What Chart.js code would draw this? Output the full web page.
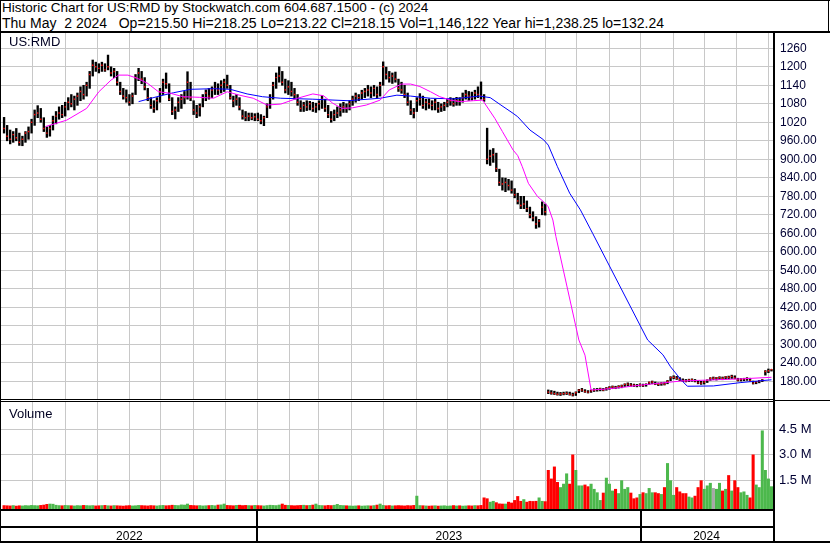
<!DOCTYPE html>
<html lang="en">
<head>
<meta charset="UTF-8">
<title>US:RMD Historic Chart</title>
<script src="https://cdn.jsdelivr.net/npm/chart.js"></script>
<style>
  body { margin: 0; background: #fff; }
  #page { position: relative; width: 830px; height: 543px; overflow: hidden; font-family: "Liberation Sans", Arial, sans-serif; color: #000; }
  .hdr { position: absolute; left: 2px; font-size: 14px; line-height: 14px; white-space: pre; }
  .lbl { position: absolute; left: 9px; font-size: 13px; line-height: 13px; color: #000022; }
  .k { position: absolute; background: #000; }
  canvas { position: absolute; }
</style>
</head>
<body>
<div id="page">
  <div class="hdr" style="top:1px;font-size:13.5px">Historic Chart for US:RMD by Stockwatch.com 604.687.1500 - (c) 2024</div>
  <div class="hdr" style="top:15.5px">Thu May  2 2024   Op=215.50 Hi=218.25 Lo=213.22 Cl=218.15 Vol=1,146,122 Year hi=1,238.25 lo=132.24</div>
  <canvas id="price" width="829" height="367" style="left:1px;top:33px"></canvas>
  <canvas id="volume" width="829" height="140" style="left:1px;top:402px"></canvas>
  <div class="lbl" style="top:35.3px">US:RMD</div>
  <div class="lbl" style="top:406.6px">Volume</div>

  <div class="k" style="left:0;top:0;width:830px;height:1px"></div>
  <div class="k" style="left:0;top:0;width:1px;height:543px"></div>
  <div class="k" style="left:828px;top:0;width:1px;height:32px"></div>
  <div class="k" style="left:0;top:31px;width:830px;height:2px"></div>
  <div class="k" style="left:773px;top:31px;width:2px;height:512px"></div>
  <div class="k" style="left:0;top:399px;width:773px;height:1px"></div>
  <div class="k" style="left:0;top:401px;width:773px;height:1px"></div>
  <div class="k" style="left:775px;top:400px;width:55px;height:1px"></div>
  <div class="k" style="left:0;top:509px;width:775px;height:2px"></div>
  <div class="k" style="left:0;top:526px;width:775px;height:2px"></div>
  <div class="k" style="left:0;top:541px;width:830px;height:2px"></div>
  <div class="k" style="left:256px;top:509px;width:2px;height:34px"></div>
  <div class="k" style="left:640px;top:509px;width:2px;height:34px"></div>
</div>

<script>
// one bar per two trading days, May 2022 .. May 2 2024
const hi = [
  1036,1010,995,990,1000,985,975,990,1005,1030,
  1060,1074,1065,1035,1005,1010,1040,1055,1070,1075,
  1085,1100,1110,1105,1115,1135,1140,1150,1185,1222,
  1215,1210,1215,1210,1238,1200,1195,1185,1150,1130,
  1125,1110,1115,1175,1195,1185,1165,1130,1100,1090,
  1100,1130,1160,1180,1145,1100,1070,1100,1110,1120,
  1184,1150,1090,1075,1080,1110,1125,1130,1135,1150,
  1145,1155,1160,1173,1140,1105,1110,1100,1060,1055,
  1050,1050,1048,1050,1045,1040,1080,1110,1150,1180,
  1200,1185,1160,1155,1150,1130,1110,1090,1085,1090,
  1088,1085,1082,1090,1107,1095,1075,1055,1060,1070,
  1080,1085,1080,1090,1105,1115,1110,1124,1130,1140,
  1135,1140,1135,1150,1216,1199,1185,1180,1183,1160,
  1150,1140,1115,1090,1065,1100,1113,1105,1095,1096,
  1090,1095,1085,1080,1085,1095,1100,1098,1101,1100,
  1115,1124,1120,1118,1124,1135,1151,1110,1001,930,
  935,920,868,840,839,835,830,805,790,780,
  780,765,745,730,714,705,762,755,
  152,150,148,145,144,145,146,145,142,146,
  154,157,153,150,152,156,157,158,157,160,
  163,165,164,166,168,172,175,173,171,170,
  172,171,172,178,181,178,175,176,177,183,
  195,198,196,192,188,186,187,188,186,182,
  180,181,185,192,194,193,195,194,196,197,
  200,198,190,189,190,192,190,181,180,183,
  186,215,220,218.25
];
const lo = [
  985,960,950,955,960,945,944,955,965,985,
  1010,1035,1020,990,971,975,995,1015,1030,1035,
  1040,1060,1070,1060,1075,1090,1095,1105,1130,1170,
  1185,1180,1185,1185,1190,1170,1165,1140,1110,1095,
  1085,1075,1080,1110,1155,1145,1125,1090,1065,1052,
  1060,1085,1110,1130,1090,1045,1031,1055,1065,1080,
  1095,1090,1045,1035,1040,1070,1090,1095,1100,1110,
  1110,1115,1120,1130,1095,1070,1075,1060,1030,1025,
  1025,1028,1025,1025,1015,1009,1035,1065,1095,1130,
  1150,1140,1115,1110,1105,1095,1075,1055,1055,1058,
  1060,1055,1052,1060,1065,1055,1035,1020,1025,1035,
  1040,1052,1052,1060,1075,1085,1090,1095,1100,1105,
  1100,1105,1100,1105,1140,1160,1150,1146,1150,1120,
  1114,1100,1075,1045,1034,1055,1075,1065,1060,1065,
  1060,1060,1052,1055,1058,1070,1075,1072,1075,1075,
  1085,1095,1091,1092,1095,1100,1095,1088,885,880,
  890,860,815,800,795,800,790,775,755,740,
  740,730,710,700,676,680,720,719,
  140,138,137,135,134,136,137,135,132.24,134,
  143,147,144,142,144,147,148,149,149,151,
  154,156,156,158,159,163,165,164,163,162,
  164,163,164,170,172,169,166,167,168,172,
  182,188,186,182,179,178,179,180,178,172,
  170,171,176,183,185,184,186,185,187,188,
  189,188,181,181,182,183,181,171,172,175,
  179,200,208,213.22
];
const cl = [
  1000,975,965,980,970,955,965,985,990,1020,
  1045,1050,1030,1000,985,1000,1025,1040,1050,1045,
  1070,1085,1080,1095,1105,1120,1110,1140,1175,1205,
  1200,1195,1205,1190,1200,1180,1185,1150,1120,1105,
  1100,1085,1105,1165,1180,1160,1135,1100,1075,1065,
  1090,1120,1150,1145,1095,1055,1060,1085,1095,1100,
  1150,1100,1060,1050,1070,1100,1115,1105,1125,1130,
  1125,1140,1150,1140,1100,1090,1095,1070,1040,1035,
  1040,1035,1038,1030,1025,1035,1070,1100,1140,1165,
  1170,1150,1125,1135,1120,1110,1085,1065,1075,1070,
  1080,1065,1070,1080,1095,1065,1045,1030,1045,1050,
  1060,1070,1065,1080,1095,1105,1100,1115,1120,1125,
  1115,1130,1110,1140,1200,1175,1165,1170,1160,1130,
  1125,1110,1085,1060,1050,1090,1095,1075,1085,1080,
  1075,1085,1065,1070,1075,1085,1090,1080,1090,1088,
  1100,1110,1105,1100,1115,1110,1105,1095,900,910,
  915,870,825,820,825,815,800,785,765,750,
  755,740,720,710,690,700,745,730,
  145,142,140,138,139,140,141,138,136,143,
  151,152,147,145,149,152,153,155,152,157,
  160,162,160,163,165,170,171,168,167,166,
  169,166,170,176,178,172,170,173,171,180,
  192,193,190,186,183,181,184,185,182,175,
  174,178,183,190,190,191,192,190,194,193,
  196,191,184,186,187,189,183,174,178,181,
  183,212,214,218.15
];
// volume in millions
const vol = [
  .05,.04,.03,.05,.02,.04,.03,.05,.04,.06,
  .05,.04,.06,.08,.12,.14,.13,.07,.05,.04,
  .06,.05,.04,.03,.05,.04,.06,.05,.04,.05,
  .03,.04,.05,.06,.04,.03,.05,.04,.03,.02,
  .04,.05,.03,.04,.06,.05,.04,.03,.05,.04,
  .03,.05,.06,.04,.05,.07,.06,.05,.09,.08,
  .14,.06,.05,.04,.05,.03,.04,.05,.06,.04,
  .08,.09,.14,.06,.05,.04,.06,.07,.05,.06,
  .05,.04,.06,.05,.04,.03,.05,.07,.06,.05,
  .08,.14,.07,.06,.05,.04,.05,.06,.07,.05,
  .06,.08,.14,.06,.05,.04,.06,.05,.07,.12,
  .06,.05,.04,.03,.02,.03,.04,.02,.03,.04,
  .03,.05,.08,.14,.06,.04,.05,.03,.04,.05,
  .04,.03,.05,.04,.06,.60,.05,.04,.03,.02,
  .03,.04,.02,.03,.04,.02,.03,.05,.03,.04,
  .02,.03,.04,.03,.05,.04,.06,.50,.45,.25,
  .30,.22,.15,.14,.14,.25,.20,.35,.58,.30,
  .40,.25,.30,.29,.30,.50,.30,.28,
  2.1,1.6,2.3,1.4,1.1,1.3,1.9,1.3,3.0,2.1,
  1.2,1.2,1.25,1.15,1.3,1.0,0.8,0.35,0.78,1.65,
  1.3,0.9,1.0,0.75,1.5,1.0,1.1,0.78,0.45,0.5,
  0.7,0.8,0.75,1.05,0.8,0.8,0.75,0.7,1.1,2.5,
  1.5,0.65,1.1,0.85,0.75,0.75,0.55,0.5,0.6,1.1,
  1.5,1.0,1.2,1.35,1.05,1.0,1.35,0.9,1.0,1.8,
  0.9,1.5,1.1,0.8,0.85,0.65,0.5,3.0,1.25,1.1,
  4.4,2.1,1.6,1.15
];

// moving averages (trading-day index, value)
const maFastDay = [28,42,55,63,71,76,82,88,95,102,110,118,129,138,147,155,164,173,182,193,203,210,216,222,229,238,247,253,261,267,273,280,286,293,299,308,314,322,327,334,337,340,344,350,354,357,360,362,377,381,385,395,405,418,444,483,503];
const maFast    = [1006,1027,1065,1119,1157,1173,1173,1163,1146,1119,1114,1103,1101,1098,1119,1108,1098,1076,1079,1098,1112,1106,1082,1065,1067,1076,1092,1125,1144,1144,1136,1119,1103,1092,1087,1090,1092,1033,990,930,912,876,822,779,762,746,703,649,314,265,152,155,160,168,181,188,193];
const maSlowDay = [89,101,112,123,138,149,160,170,182,203,226,247,258,267,280,295,312,319,326,334,337,345,354,357,363,371,378,386,422,432,437,444,448,465,483,503];
const maSlow    = [1087,1103,1116,1127,1129,1127,1112,1103,1098,1095,1090,1098,1108,1105,1098,1096,1105,1100,1076,1049,1038,995,963,946,876,790,736,660,314,266,227,184,164,165,176,185];

const priceTicks = [180,240,300,360,420,480,540,600,660,720,780,840,900,960,1020,1080,1140,1200,1260];
const volTicks = [1.5, 3.0, 4.5];
const monthTicks = [19.5,41,62,83,103.5,125,146,167,188,207,228.5,249,270.5,291,312.5,334.5,355,375.5,397,417,439,459.5,480,501];
const yearMid = [83, 292, 460.5];
const yearLabels = ['2022', '2023', '2024'];

const days = cl.map((c, k) => 2 * k + 1);
const FONT = '"Liberation Sans", Arial, sans-serif';
const GRID = '#c8c8c8';
const volMin = -0.15;

const common = {
  responsive: false,
  animation: false,
  devicePixelRatio: 1,
  events: [],
  layout: { padding: 0, autoPadding: false },
  plugins: { legend: { display: false }, tooltip: { enabled: false } }
};

// drop the label padding Chart.js reserves so the plot fills its canvas
function noPad(s) {
  s.paddingTop = 0; s.paddingBottom = 0; s.paddingLeft = 0; s.paddingRight = 0;
}

function monthAxis() {
  return {
    type: 'linear', min: -1, max: 504, offset: false,
    ticks: { display: false },
    grid: { color: GRID, drawTicks: false, offset: false },
    border: { display: false },
    afterBuildTicks: s => { s.ticks = monthTicks.map(v => ({ value: v })); },
    afterFit: s => { s.height = 0; noPad(s); }
  };
}

new Chart(document.getElementById('price'), {
  type: 'bar',
  data: {
    datasets: [
      { type: 'line', data: maFastDay.map((d, i) => ({ x: d, y: maFast[i] })), borderColor: '#ff00ff', borderWidth: 1, pointRadius: 0, tension: 0, order: 0 },
      { type: 'line', data: maSlowDay.map((d, i) => ({ x: d, y: maSlow[i] })), borderColor: '#0000ff', borderWidth: 1, pointRadius: 0, tension: 0, order: 0 },
      { type: 'line', data: days.map((d, k) => ({ x: d, y: cl[k] })), showLine: false, pointStyle: 'rect', pointRadius: 1, pointBorderWidth: 0, pointBackgroundColor: '#ff0000', order: 1 },
      { type: 'bar', data: days.map((d, k) => ({ x: d, y: [lo[k], hi[k]] })), backgroundColor: '#000', barThickness: 1.7, order: 2 }
    ]
  },
  options: Object.assign({}, common, {
    scales: {
      x: monthAxis(),
      y: {
        position: 'right', min: 119.4, max: 1309.6,
        afterBuildTicks: s => { s.ticks = priceTicks.map(v => ({ value: v })); },
        ticks: { font: { family: FONT, size: 12 }, color: '#000033', padding: 7,
                 callback: v => v >= 1000 ? String(v) : v.toFixed(2) },
        grid: { color: GRID, drawTicks: false },
        border: { display: false },
        afterFit: s => { s.width = 57; noPad(s); }
      }
    }
  })
});

const volColors = vol.map((v, k) => {
  if (k === 0 || cl[k] < cl[k - 1]) return '#ff0000';
  if (cl[k] > cl[k - 1]) return '#4cb84c';
  return '#a8a8a8';
});

new Chart(document.getElementById('volume'), {
  type: 'bar',
  data: {
    datasets: [
      { data: days.map((d, k) => ({ x: d, y: vol[k] })), backgroundColor: volColors, base: volMin, barThickness: 2.4 }
    ]
  },
  options: Object.assign({}, common, {
    scales: {
      x: monthAxis(),
      xYear: {
        type: 'linear', position: 'bottom', min: -1, max: 504, offset: false,
        afterBuildTicks: s => { s.ticks = yearMid.map(v => ({ value: v })); },
        ticks: { autoSkip: false, maxRotation: 0, padding: 20, color: '#000',
                 font: { family: FONT, size: 12 },
                 callback: v => yearLabels[yearMid.indexOf(v)] },
        grid: { display: false, drawTicks: false },
        border: { display: false },
        afterFit: s => { s.height = 33; noPad(s); }
      },
      y: {
        position: 'right', min: volMin, max: 6.074,
        afterBuildTicks: s => { s.ticks = volTicks.map(v => ({ value: v })); },
        ticks: { font: { family: FONT, size: 13 }, color: '#000033', padding: 6,
                 callback: v => v.toFixed(1) + ' M' },
        grid: { color: GRID, drawTicks: false },
        border: { display: false },
        afterFit: s => { s.width = 57; noPad(s); }
      }
    }
  })
});
</script>
</body>
</html>
